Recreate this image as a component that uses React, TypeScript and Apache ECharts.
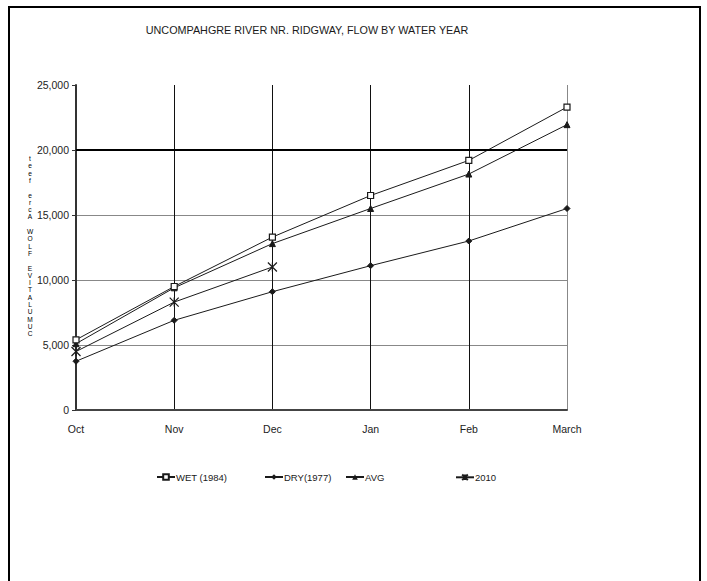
import React, { useEffect, useRef } from "react";
import * as echarts from "echarts";

const months = ["Oct", "Nov", "Dec", "Jan", "Feb", "March"];
const wet1984 = [5400, 9500, 13300, 16500, 19200, 23300];
const dry1977 = [3750, 6900, 9100, 11100, 13000, 15500];
const avgFlow = [5100, 9400, 12800, 15500, 18150, 21950];
const year2010 = [4500, 8300, 11000];
const yTicks = { min: 0, max: 25000, interval: 5000 };
const highlightLevel = 20000;

const titleText = "UNCOMPAHGRE RIVER NR. RIDGWAY, FLOW BY WATER YEAR";
const yAxisTitle = "CUMULATIVE FLOW Acre feet";

const FONT = "'Liberation Sans Narrow', 'Arial Narrow', 'Liberation Sans', sans-serif";
const INK = "#1a1a1a";

const starSymbol = "path://M0,0L10,10M10,0L0,10M5,0L5,10";

export default function App() {
  const ref = useRef<HTMLDivElement>(null);

  useEffect(() => {
    if (!ref.current) return;
    const chart = echarts.init(ref.current, null, { renderer: "svg" });

    const lineBase = {
      type: "line" as const,
      lineStyle: { color: INK, width: 1 },
      itemStyle: { color: INK, borderColor: INK },
      emphasis: { disabled: true },
    };

    const legendSpots = [
      { name: "WET (1984)", left: 156 },
      { name: "DRY(1977)", left: 264 },
      { name: "AVG", left: 345 },
      { name: "2010", left: 455 },
    ];

    // stacked, bottom-to-top axis caption: one glyph per line
    const captionChars = yAxisTitle.split("").reverse();
    const captionTop = 155;
    const captionStep = 7.3;

    chart.setOption({
      animation: false,
      backgroundColor: "#fff",
      textStyle: { fontFamily: FONT, color: INK },
      grid: { left: 76, right: 140, top: 85, bottom: 171 },
      legend: legendSpots.map((l) => ({
        data: [l.name],
        left: l.left,
        top: 472,
        itemWidth: 18,
        itemHeight: 7,
        itemGap: 0,
        padding: 0,
        textStyle: { fontFamily: FONT, fontSize: 9.5, color: INK, padding: [0, 0, 0, -4] },
        selectedMode: false,
      })),
      xAxis: {
        type: "category",
        data: months,
        boundaryGap: false,
        axisLine: { lineStyle: { color: "#444", width: 2 } },
        axisTick: { show: false },
        axisLabel: { fontFamily: FONT, fontSize: 10.5, color: "#222", margin: 13 },
        splitLine: {
          show: true,
          lineStyle: { color: ["#111", "#111", "#111", "#111", "#111", "#888"], width: 1 },
        },
      },
      yAxis: {
        type: "value",
        min: yTicks.min,
        max: yTicks.max,
        interval: yTicks.interval,
        axisLine: { show: true, lineStyle: { color: "#333", width: 2 } },
        axisTick: { show: true, length: 4, lineStyle: { color: "#333" } },
        axisLabel: {
          fontFamily: FONT,
          fontSize: 10.5,
          color: "#222",
          margin: 7,
          formatter: (v: number) => v.toLocaleString("en-US"),
        },
        splitLine: {
          show: true,
          lineStyle: {
            color: ["#888", "#888", "#888", "#888", "#888", "rgba(0,0,0,0)"],
            width: 1,
          },
        },
      },
      graphic: [
        {
          type: "rect",
          shape: { x: 9, y: 7, width: 691, height: 585 },
          style: { fill: "none", stroke: "#000", lineWidth: 2 },
          silent: true,
        },
        {
          type: "text",
          x: 307,
          y: 30,
          style: {
            text: titleText,
            fontFamily: FONT,
            fontSize: 10.8,
            fill: INK,
            align: "center",
            verticalAlign: "middle",
          },
        },
        ...captionChars
          .map((ch, i) => ({ ch, i }))
          .filter(({ ch }) => ch !== " ")
          .map(({ ch, i }) => ({
            type: "text",
            x: 30,
            y: captionTop + i * captionStep,
            style: {
              text: ch,
              fontFamily: FONT,
              fontSize: 6.6,
              fill: "#000",
              align: "center",
              verticalAlign: "top",
            },
          })),
      ],
      series: [
        {
          ...lineBase,
          name: "WET (1984)",
          data: wet1984,
          symbol: "rect",
          symbolSize: 6,
          itemStyle: { color: "#fff", borderColor: INK, borderWidth: 1.2 },
          markLine: {
            silent: true,
            symbol: "none",
            label: { show: false },
            lineStyle: { color: "#000", width: 2, type: "solid" },
            data: [{ yAxis: highlightLevel }],
          },
          z: 4,
        },
        {
          ...lineBase,
          name: "DRY(1977)",
          data: dry1977,
          symbol: "diamond",
          symbolSize: 6,
        },
        {
          ...lineBase,
          name: "AVG",
          data: avgFlow,
          symbol: "triangle",
          symbolSize: 6,
        },
        {
          ...lineBase,
          name: "2010",
          data: year2010,
          symbol: starSymbol,
          symbolSize: 9,
          itemStyle: { color: "none", borderColor: INK, borderWidth: 1.2 },
        },
      ],
    });

    return () => chart.dispose();
  }, []);

  return (
    <div
      ref={ref}
      style={{ position: "fixed", left: 0, top: 0, width: 707, height: 581 }}
    />
  );
}
